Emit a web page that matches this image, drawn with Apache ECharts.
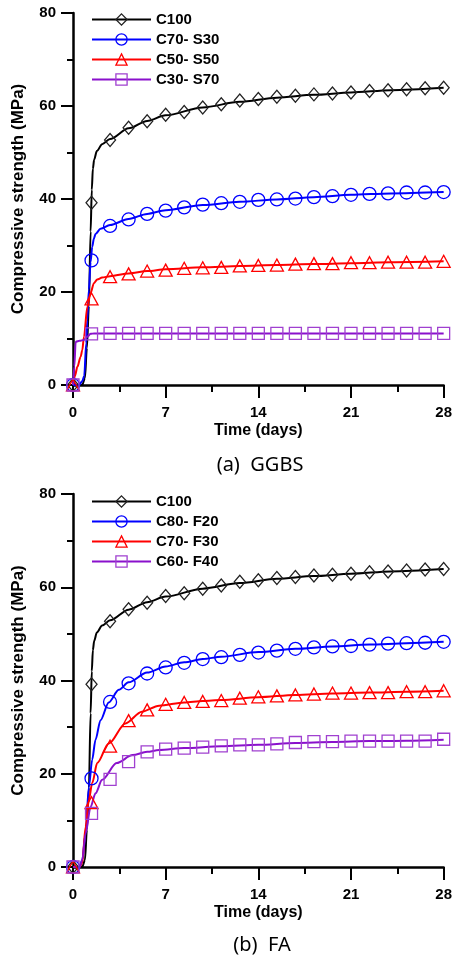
<!DOCTYPE html>
<html><head><meta charset="utf-8">
<script src="https://cdn.jsdelivr.net/npm/echarts@6/dist/echarts.min.js"></script>
<style>html,body{margin:0;padding:0;background:#fff}#c{width:455px;height:959px}</style>
</head><body><div id="c"></div>
<script>
// ---- shared ----
const markerDays = [0,1.4,2.8,4.2,5.6,7,8.4,9.8,11.2,12.6,14,15.4,16.8,18.2,19.6,21,22.4,23.8,25.2,26.6,28];
const xTickValues = [0,7,14,21,28];
const yTickValues = [0,20,40,60,80];

// ---- (a) GGBS : measured points (markers) ----
const c100Marks   = [0,39.2,52.7,55.3,56.7,58.1,58.7,59.7,60.4,61.2,61.5,62.0,62.2,62.5,62.7,62.9,63.2,63.4,63.6,63.8,63.9];
const c70s30Marks = [0,26.8,34.2,35.6,36.8,37.5,38.2,38.8,39.1,39.4,39.8,39.9,40.1,40.4,40.6,40.9,41.1,41.2,41.4,41.4,41.5];
const c50s50Marks = [0,18.5,23.3,23.9,24.5,24.7,25.1,25.2,25.3,25.6,25.7,25.8,26.0,26.1,26.1,26.3,26.3,26.4,26.4,26.4,26.6];
const c30s70Marks = [0,11.0,11.1,11.1,11.1,11.1,11.1,11.1,11.1,11.1,11.1,11.1,11.1,11.1,11.1,11.1,11.1,11.1,11.1,11.1,11.1];

// ---- (a) GGBS : fitted curves ----
const c100CurveDays = [0,0.7,0.9,1.05,1.2,1.33,1.42,1.5,1.6,1.8,2.2,2.8,4.2,5.6,7,9.8,12.6,15.4,18.2,21,24,28];
const c100Curve     = [0,0,1.5,8,17,33,42,46.5,48.5,50.3,51.8,52.9,55.2,56.8,58.0,59.7,60.9,61.8,62.4,62.9,63.4,63.9];
const c70s30CurveDays = [0,0.45,0.7,0.85,1.0,1.08,1.2,1.33,1.45,1.58,1.7,2.08,2.8,4.2,5.6,7,9.8,12.6,15.4,18.2,21,24,28];
const c70s30Curve     = [0,0,0.8,2,9,14,20.5,26.5,29.7,31.5,32.5,33.6,34.4,35.7,36.8,37.6,38.7,39.4,39.9,40.4,40.9,41.2,41.5];
const c50s50CurveDays = [0,0.15,0.33,0.58,0.7,0.83,1.08,1.33,1.58,1.83,2.2,2.8,4.2,5.6,7,9.8,12.6,15.4,18.2,21,24,28];
const c50s50Curve     = [0,2,3.9,6.1,7.5,10.4,16.8,19.8,21.9,22.7,23.1,23.4,24.0,24.5,24.9,25.3,25.6,25.8,26.0,26.2,26.4,26.6];
const c30s70CurveDays = [0,0.1,0.2,0.5,0.83,1.08,1.33,1.6,2.8,28];
const c30s70Curve     = [0,4,9.3,9.5,9.7,10.4,11.0,11.1,11.1,11.1];

// ---- (b) FA : measured points ----
const c80f20Marks = [0,19.0,35.4,39.4,41.5,42.8,43.8,44.6,45.0,45.5,46.0,46.4,46.8,47.1,47.3,47.4,47.7,47.9,48.0,48.1,48.3];
const c70f30Marks = [0,13.8,25.9,31.4,33.7,34.9,35.3,35.5,35.7,36.2,36.5,36.7,36.9,37.1,37.3,37.3,37.4,37.4,37.6,37.6,37.8];
const c60f40Marks = [0,11.5,18.8,22.6,24.7,25.3,25.5,25.7,26.0,26.2,26.2,26.4,26.7,26.9,26.9,27.0,27.0,27.0,27.0,27.0,27.4];

// ---- (b) FA : fitted curves ----
const c80f20CurveDays = [0,0.5,0.7,0.95,1.2,1.45,1.7,2.08,2.7,3.46,4.2,5.6,7,8.4,9.8,11.2,14,16.8,19.6,22.4,25.2,28];
const c80f20Curve     = [0,0,1.5,7.2,17.2,23,27.3,31.5,35.3,38.0,39.6,41.7,43.0,43.9,44.6,45.1,46.1,46.8,47.3,47.7,48.0,48.3];
const c70f30CurveDays = [0,0.5,0.7,0.95,1.2,1.45,1.83,2.7,3.96,5.2,6.5,8.4,9.8,11.2,14,16.8,19.6,22.4,25.2,28];
const c70f30Curve     = [0,0,0.9,8.6,14.4,18,22.3,26.5,30.8,33.3,34.6,35.3,35.6,35.8,36.4,36.9,37.2,37.4,37.6,37.8];
const c60f40CurveDays = [0,0.5,0.7,0.95,1.33,1.7,2.2,3.3,4.5,5.6,6.5,8.4,11.2,14,16.8,19.6,22.4,25.2,28];
const c60f40Curve     = [0,0,1.5,7.2,12.9,15.8,18.7,22.3,24.0,24.7,25.1,25.5,25.9,26.2,26.6,26.8,27.0,27.1,27.3];

const namesA = ['C100','C70- S30','C50- S50','C30- S70'];
const namesB = ['C100 ','C80- F20','C70- F30','C60- F40'];

// ---- styling ----
const BLACK='#000000', BLUE='#0000ff', RED='#ff0000', PURPLE='#8a10cc', PURPLE_M='#a040d0';
const FONT = '"Liberation Sans", Arial, sans-serif';
const styles = [
  {line:BLACK, mark:'#222222', symbol:'diamond', size:[11,13]},
  {line:BLUE,  mark:BLUE,  symbol:'circle', size:13},
  {line:RED,   mark:RED,   symbol:'triangle', size:[13,12]},
  {line:PURPLE,mark:PURPLE_M, symbol:'rect', size:12}
];

function zip(xs, ys){ return xs.map((x,i)=>[x, ys[i]]); }

function buildSeries(gi, names, curves, marks){
  const out = [];
  names.forEach((n,i)=>{
    const st = styles[i];
    out.push({
      type:'line', name:n, xAxisIndex:gi, yAxisIndex:gi,
      data: zip(curves[i][0], curves[i][1]),
      smooth:0.3, smoothMonotone:'x', showSymbol:false, symbol:st.symbol,
      lineStyle:{color:st.line, width:2},
      itemStyle:{color:'rgba(0,0,0,0)', borderColor:st.mark, borderWidth:1.3},
      emphasis:{disabled:true}, silent:true, z:2
    });
  });
  names.forEach((n,i)=>{
    const st = styles[i];
    out.push({
      type:'scatter', name:n, xAxisIndex:gi, yAxisIndex:gi,
      data: zip(markerDays, marks[i]),
      symbol:st.symbol, symbolSize:st.size,
      itemStyle:{color:'rgba(0,0,0,0)', borderColor:st.mark, borderWidth:1.3, opacity:1},
      emphasis:{disabled:true}, silent:true, z:3, clip:false
    });
  });
  return out;
}

function xAxisCfg(gi){
  return {
    type:'value', gridIndex:gi, min:0, max:28, interval:7,
    name:'Time (days)', nameLocation:'middle', nameGap:38,
    nameTextStyle:{color:'#000', fontWeight:'bold', fontSize:16, fontFamily:FONT},
    axisLine:{show:true, onZero:false, lineStyle:{color:'#000', width:2.5}},
    axisTick:{show:true, length:13, lineStyle:{color:'#000', width:2}},
    minorTick:{show:true, splitNumber:2, length:7, lineStyle:{color:'#000', width:2}},
    axisLabel:{color:'#000', fontWeight:'bold', fontSize:15, fontFamily:FONT, margin:20,
      formatter:v=> xTickValues.includes(v) ? String(v) : ''},
    splitLine:{show:false}, minorSplitLine:{show:false}
  };
}
function yAxisCfg(gi){
  return {
    type:'value', gridIndex:gi, min:0, max:80, interval:20,
    name:'Compressive strength (MPa)', nameLocation:'middle', nameGap:46, nameRotate:90,
    nameTextStyle:{color:'#000', fontWeight:'bold', fontSize:17, fontFamily:FONT},
    axisLine:{show:true, onZero:false, lineStyle:{color:'#000', width:2.5}},
    axisTick:{show:true, length:12, lineStyle:{color:'#000', width:2}},
    minorTick:{show:true, splitNumber:2, length:6, lineStyle:{color:'#000', width:2}},
    axisLabel:{color:'#000', fontWeight:'bold', fontSize:15, fontFamily:FONT, margin:17,
      formatter:v=> yTickValues.includes(v) ? String(v) : ''},
    splitLine:{show:false}, minorSplitLine:{show:false}
  };
}
function legendCfg(names, top){
  return {
    orient:'vertical', left:86, top:top, itemWidth:59, itemHeight:14, itemGap:5,
    selectedMode:false,
    textStyle:{color:'#000', fontWeight:'bold', fontSize:15, fontFamily:FONT},
    data: names.map((n,i)=>({
      name:n,
      itemStyle:{color:'rgba(0,0,0,0)', borderColor:styles[i].mark, borderWidth:1.3},
      lineStyle:{color:styles[i].line, width:2}
    }))
  };
}

const chart = echarts.init(document.getElementById('c'), null, {renderer:'canvas'});
chart.setOption({
  backgroundColor:'#fff',
  animation:false,
  grid:[
    {left:73, top:13, width:373, height:372},
    {left:73, top:494, width:373, height:373}
  ],
  xAxis:[xAxisCfg(0), xAxisCfg(1)],
  yAxis:[yAxisCfg(0), yAxisCfg(1)],
  legend:[legendCfg(namesA, 7), legendCfg(namesB, 489)],
  series:[
    ...buildSeries(0, namesA,
      [[c100CurveDays,c100Curve],[c70s30CurveDays,c70s30Curve],[c50s50CurveDays,c50s50Curve],[c30s70CurveDays,c30s70Curve]],
      [c100Marks,c70s30Marks,c50s50Marks,c30s70Marks]),
    ...buildSeries(1, namesB,
      [[c100CurveDays,c100Curve],[c80f20CurveDays,c80f20Curve],[c70f30CurveDays,c70f30Curve],[c60f40CurveDays,c60f40Curve]],
      [c100Marks,c80f20Marks,c70f30Marks,c60f40Marks])
  ],
  graphic:[
    {type:'text', x:260, y:465, silent:true,
      style:{text:'(a)  GGBS', font:'20px "Noto Sans", sans-serif', fill:'#000', align:'center', verticalAlign:'middle'}},
    {type:'text', x:262, y:945, silent:true,
      style:{text:'(b)  FA', font:'20px "Noto Sans", sans-serif', fill:'#000', align:'center', verticalAlign:'middle'}}
  ]
});
</script>
</body></html>
